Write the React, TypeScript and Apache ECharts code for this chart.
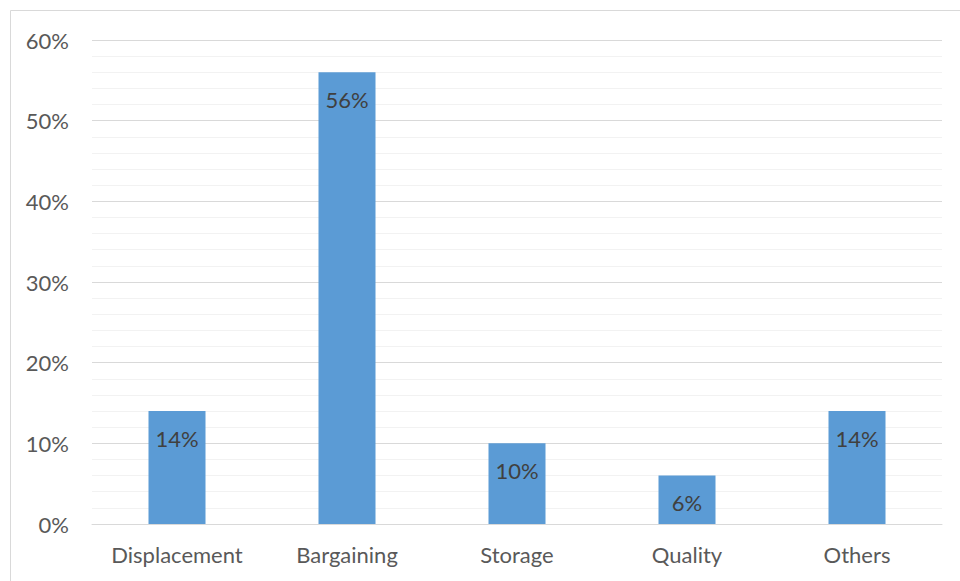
import React, { useEffect, useRef } from "react";
import * as echarts from "echarts";

const categories = ["Displacement", "Bargaining", "Storage", "Quality", "Others"];
const shares = [14, 56, 10, 6, 14];
const yTicks = [0, 10, 20, 30, 40, 50, 60];

const FONT = "Lato, 'Open Sans', sans-serif";

export default function App() {
  const ref = useRef<HTMLDivElement>(null);

  useEffect(() => {
    if (!ref.current) return;
    const chart = echarts.init(ref.current, undefined, { renderer: "svg" });
    chart.setOption({
      animation: false,
      backgroundColor: "#ffffff",
      graphic: [
        {
          type: "rect",
          shape: { x: 10.5, y: 10.5, width: 960, height: 600 },
          style: { fill: "none", stroke: "#d9d9d9", lineWidth: 1 },
          silent: true,
          z: -1,
        },
      ],
      grid: { left: 92, right: 18, top: 40, bottom: 57, containLabel: false },
      xAxis: {
        type: "category",
        data: categories,
        axisLine: { show: true, lineStyle: { color: "#d9d9d9", width: 1 } },
        axisTick: { show: false },
        axisLabel: {
          color: "#595959",
          fontSize: 22,
          fontFamily: FONT,
          margin: 19,
          interval: 0,
          hideOverlap: false,
        },
      },
      yAxis: {
        type: "value",
        min: yTicks[0],
        max: yTicks[yTicks.length - 1],
        interval: 10,
        axisLine: { show: false },
        axisTick: { show: false },
        axisLabel: {
          color: "#595959",
          fontSize: 22,
          fontFamily: FONT,
          margin: 23,
          formatter: (v: number) => `${v}%`,
        },
        splitLine: { show: true, lineStyle: { color: "#d9d9d9", width: 1 } },
        minorTick: { show: false, splitNumber: 5 },
        minorSplitLine: { show: true, lineStyle: { color: "#f2f2f2", width: 1 } },
      },
      series: [
        {
          type: "bar",
          data: shares,
          barWidth: 57,
          itemStyle: { color: "#5b9bd5" },
          label: {
            show: true,
            position: "insideTop",
            distance: 16,
            color: "#404040",
            fontSize: 22,
            fontFamily: FONT,
            formatter: (p: any) => `${p.value}%`,
          },
        },
      ],
    });
    return () => chart.dispose();
  }, []);

  return (
    <div
      ref={ref}
      style={{ position: "absolute", left: 0, top: 0, width: 960, height: 581 }}
    />
  );
}
